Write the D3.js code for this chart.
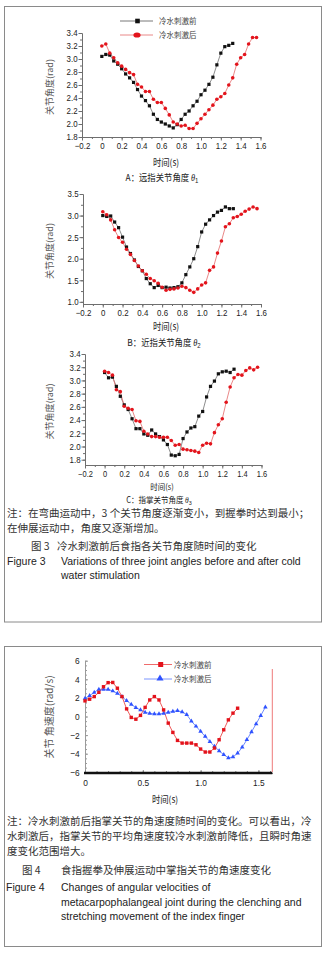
<!DOCTYPE html>
<html>
<head>
<meta charset="utf-8">
<script src="https://cdn.jsdelivr.net/npm/d3@7"></script>
<style>
  body { margin: 0; background: #fff; }
  svg { display: block; }
  text { font-family: "Liberation Sans", Arial, sans-serif; }
  .cjk { font-family: "Noto Sans CJK SC", sans-serif; }
</style>
</head>
<body>
<div id="chart"></div>
<script>
// sampling times (s), shared by every series
const t = [0.00,0.04,0.08,0.12,0.16,0.20,0.24,0.28,0.32,0.36,0.40,0.44,0.48,0.52,0.56,0.60,0.64,0.68,0.72,0.76,
           0.80,0.84,0.88,0.92,0.96,1.00,1.04,1.08,1.12,1.16,1.20,1.24,1.28,1.32,1.36,1.40,1.44,1.48,1.52,1.56];

// Figure 3 A: distal joint angle (rad)
const a1Before = [3.04,3.07,3.06,2.97,2.92,2.85,2.77,2.71,2.64,2.53,2.43,2.36,2.28,2.15,2.07,2.03,2.00,1.97,1.94,1.99,
                  2.07,2.15,2.20,2.28,2.35,2.45,2.52,2.61,2.72,2.91,3.09,3.19,3.21,3.24];
const a1After  = [3.20,3.23,3.09,3.02,2.94,2.89,2.84,2.79,2.76,2.61,2.57,2.50,2.50,2.38,2.33,2.33,2.24,2.14,2.03,2.00,
                  1.97,1.98,1.93,1.93,2.01,2.08,2.15,2.22,2.29,2.38,2.42,2.47,2.60,2.71,2.92,3.02,3.07,3.23,3.33,3.33];
// Figure 3 B: proximal joint angle
const a2Before = [3.00,2.98,2.99,2.85,2.72,2.50,2.27,2.12,1.97,1.82,1.72,1.54,1.42,1.33,1.38,1.33,1.34,1.32,1.33,1.35,
                  1.44,1.63,1.81,2.00,2.28,2.62,2.80,2.90,3.00,3.08,3.12,3.20,3.16,3.16];
const a2After  = [3.09,3.02,2.90,2.67,2.49,2.38,2.22,2.10,1.96,1.83,1.72,1.64,1.54,1.49,1.43,1.34,1.27,1.29,1.30,1.32,
                  1.36,1.33,1.27,1.22,1.30,1.39,1.44,1.73,1.81,2.13,2.41,2.74,2.81,2.95,2.98,3.03,3.10,3.15,3.20,3.16];
// Figure 3 C: metacarpophalangeal joint angle
const a3Before = [3.12,3.04,3.05,2.91,2.76,2.63,2.56,2.42,2.27,2.27,2.19,2.17,2.25,2.19,2.15,2.10,2.03,1.87,1.86,1.88,
                  2.12,2.22,2.28,2.30,2.46,2.53,2.75,2.91,2.99,3.10,3.13,3.14,3.12,3.17];
const a3After  = [3.14,3.12,3.08,2.86,2.83,2.61,2.58,2.56,2.39,2.38,2.23,2.19,2.15,2.15,2.14,2.14,2.14,2.09,2.02,2.03,
                  1.96,1.95,1.94,1.93,1.91,2.02,2.05,2.04,2.21,2.33,2.42,2.67,2.90,3.04,3.09,3.08,3.15,3.19,3.16,3.20];

// Figure 4: angular velocity (rad/s)
const vBefore = [1.68,1.86,2.14,2.60,3.20,3.64,3.66,3.04,2.14,0.82,-0.10,-0.29,0.12,0.98,1.78,2.14,1.78,0.71,-0.71,-1.71,
                 -2.57,-2.86,-2.86,-2.86,-3.04,-3.50,-3.82,-3.82,-3.39,-2.50,-1.43,-0.36,0.36,0.89];
const vAfter  = [1.95,2.24,2.60,2.92,2.92,2.92,2.74,2.49,2.13,1.70,1.31,0.95,0.70,0.45,0.34,0.27,0.27,0.34,0.45,0.55,
                 0.62,0.50,0.20,-0.50,-1.05,-1.60,-2.15,-2.70,-3.20,-3.70,-4.10,-4.45,-4.35,-3.95,-3.30,-2.50,-1.65,-0.80,0.10,1.00];

// tick labels
const angleXTicks = [-0.2,0,0.2,0.4,0.6,0.8,1.0,1.2,1.4,1.6];
const angleYTicks1 = [1.8,2.0,2.2,2.4,2.6,2.8,3.0,3.2,3.4];
const angleYTicks2 = [1.0,1.5,2.0,2.5,3.0,3.5];
const velXTicks = [0,0.5,1.0,1.5];
const velYTicks = [-6,-4,-2,0,2,4,6];
const seriesNames = ["冷水刺激前", "冷水刺激后"];

const W = 327, H = 955;
const svg = d3.select("#chart").append("svg").attr("width", W).attr("height", H);
svg.append("rect").attr("width", W).attr("height", H).attr("fill", "#fff");

// figure frames
svg.append("rect").attr("x", 4.5).attr("y", 6.5).attr("width", 317).attr("height", 615.5)
  .attr("fill", "none").attr("stroke", "#8a8a8a");
svg.append("rect").attr("x", 4.5).attr("y", 646.5).attr("width", 317).attr("height", 300)
  .attr("fill", "none").attr("stroke", "#8a8a8a");

const SQX = 0.88; // chart text in the source is a little squeezed horizontally

function label(x, y, str, opts = {}) {
  const el = svg.append("text")
    .attr("transform", `translate(${x},${y}) scale(${opts.sx || 1},1)${opts.rotate ? " rotate(-90)" : ""}`)
    .attr("text-anchor", opts.anchor || "start")
    .attr("fill", opts.fill || "#222")
    .style("font-size", (opts.size || 10) + "px")
    .text(str);
  if (opts.cjk) el.attr("class", "cjk");
  return el;
}

function styleAxis(g, color, size) {
  g.attr("font-size", null).attr("font-family", null);
  g.select(".domain").attr("stroke", color);
  g.selectAll(".tick line").attr("stroke", color);
  g.selectAll(".tick text").attr("fill", "#222").style("font-size", size + "px")
    .attr("transform", `scale(${SQX},1)`);
}

function subtitle(x, yb, str, sub, size) {
  const tx = svg.append("text")
    .attr("transform", `translate(${x},${yb}) scale(${SQX},1)`)
    .attr("text-anchor", "middle").attr("fill", "#222").style("font-size", size + "px");
  tx.append("tspan").attr("class", "cjk").text(str + " ");
  tx.append("tspan").style("font-family", "Liberation Serif").style("font-style", "italic").text("θ");
  tx.append("tspan").attr("dy", 2).style("font-size", (size * 0.72) + "px").text(sub);
}

function drawAngleChart(c) {
  const x = d3.scaleLinear().domain([-0.2, 1.6]).range(c.xRange);
  const y = d3.scaleLinear().domain(c.yDomain).range(c.yRange);
  const g = svg.append("g");
  const axisColor = "#6e6e6e";

  // minor ticks
  g.append("g").attr("transform", `translate(0,${c.yRange[0]})`)
    .call(d3.axisBottom(x).tickValues(x.ticks(18)).tickSize(2).tickFormat("").tickSizeOuter(0))
    .call(a => styleAxis(a, axisColor, 9));
  g.append("g").attr("transform", `translate(${c.xRange[0]},0)`)
    .call(d3.axisLeft(y).tickValues(c.yMinor).tickSize(2).tickFormat("").tickSizeOuter(0))
    .call(a => styleAxis(a, axisColor, 9));

  // major ticks + labels
  g.append("g").attr("transform", `translate(0,${c.yRange[0]})`)
    .call(d3.axisBottom(x).tickValues(angleXTicks).tickSize(3.5).tickPadding(2.5).tickSizeOuter(0)
      .tickFormat(d => d === 0 ? "0" : d3.format(".1f")(d)))
    .call(a => styleAxis(a, axisColor, c.tickSize));
  g.append("g").attr("transform", `translate(${c.xRange[0]},0)`)
    .call(d3.axisLeft(y).tickValues(c.yTicks).tickSize(3.5).tickPadding(1.5).tickSizeOuter(0)
      .tickFormat(d3.format(".1f")))
    .call(a => styleAxis(a, axisColor, 9));

  const line = d3.line().x(d => x(d[0])).y(d => y(d[1]));
  const before = c.before.map((v, i) => [t[i], v]);
  const after = c.after.map((v, i) => [t[i], v]);

  g.append("path").datum(before).attr("d", line)
    .attr("fill", "none").attr("stroke", "#707070").attr("stroke-width", 0.8);
  g.append("path").datum(after).attr("d", line)
    .attr("fill", "none").attr("stroke", "#e36a6a").attr("stroke-width", 0.8);

  g.selectAll(".sq").data(before).join("rect").attr("class", "sq")
    .attr("x", d => x(d[0]) - 1.6).attr("y", d => y(d[1]) - 1.6)
    .attr("width", 3.2).attr("height", 3.2).attr("fill", "#111");
  g.selectAll(".dot").data(after).join("circle").attr("class", "dot")
    .attr("cx", d => x(d[0])).attr("cy", d => y(d[1])).attr("r", 1.8).attr("fill", "#e3141c");

  // titles
  label(53, (c.yRange[0] + c.yRange[1]) / 2 + 2, "关节角度(rad)",
    { rotate: true, anchor: "middle", size: 9, cjk: true, fill: "#555" });
  label(c.titleX, c.titleY, "时间(s)", { anchor: "middle", size: c.titleSize, cjk: true, sx: SQX });
  subtitle(c.subX, c.subY, c.sub, c.subIndex, c.titleSize);
}

drawAngleChart({
  xRange: [82, 260.5], yDomain: [1.8, 3.4], yRange: [137, 33],
  yTicks: angleYTicks1, yMinor: d3.range(1.8, 3.41, 0.1), tickSize: 9,
  before: a1Before, after: a1After,
  titleX: 166, titleY: 165.5, titleSize: 9.5, subX: 162, subY: 180.5, sub: "A：远指关节角度", subIndex: "1"
});
drawAngleChart({
  xRange: [83, 261], yDomain: [0.95, 3.5], yRange: [304, 194],
  yTicks: angleYTicks2, yMinor: d3.range(1.0, 3.51, 0.25), tickSize: 9,
  before: a2Before, after: a2After,
  titleX: 166, titleY: 329.5, titleSize: 9.5, subX: 164, subY: 345.5, sub: "B：近指关节角度", subIndex: "2"
});
drawAngleChart({
  xRange: [85, 261.5], yDomain: [1.72, 3.4], yRange: [465, 354],
  yTicks: angleYTicks1, yMinor: d3.range(1.8, 3.41, 0.1), tickSize: 8.5,
  before: a3Before, after: a3After,
  titleX: 162, titleY: 489.5, titleSize: 8.5, subX: 159, subY: 502.5, sub: "C：指掌关节角度", subIndex: "3"
});

// legend of figure 3 (drawn once, on chart A)
svg.append("line").attr("x1", 120).attr("x2", 153).attr("y1", 21).attr("y2", 21)
  .attr("stroke", "#555").attr("stroke-width", 0.8);
svg.append("rect").attr("x", 135.2).attr("y", 18.7).attr("width", 4.6).attr("height", 4.6).attr("fill", "#111");
svg.append("line").attr("x1", 120).attr("x2", 153).attr("y1", 35).attr("y2", 35)
  .attr("stroke", "#e36a6a").attr("stroke-width", 0.8);
svg.append("ellipse").attr("cx", 137).attr("cy", 35).attr("rx", 3.6).attr("ry", 2.6).attr("fill", "#e3141c");
label(159, 24, seriesNames[0], { size: 8.5, cjk: true, fill: "#444", sx: SQX });
label(159, 38, seriesNames[1], { size: 8.5, cjk: true, fill: "#444", sx: SQX });

// notes and captions of figure 3
const noteSize = 10.5;
label(7, 517, "注：在弯曲运动中，3 个关节角度逐渐变小，到握拳时达到最小；", { size: noteSize, cjk: true, fill: "#333" });
label(7, 531.5, "在伸展运动中，角度又逐渐增加。", { size: noteSize, cjk: true, fill: "#333" });
label(31, 549.5, "图 3", { size: noteSize, cjk: true, fill: "#333" });
label(57, 549.5, "冷水刺激前后食指各关节角度随时间的变化", { size: noteSize, cjk: true, fill: "#333" });
label(7, 565, "Figure 3", { size: 10.5, fill: "#222" });
label(61, 565, "Variations of three joint angles before and after cold", { size: 10.5, fill: "#222" });
label(61, 578.5, "water stimulation", { size: 10.5, fill: "#222" });

// ---------- Figure 4: angular velocity ----------
(function () {
  const x = d3.scaleLinear().domain([0, 1.62]).range([85, 272.3]);
  const y = d3.scaleLinear().domain([-6, 6]).range([772.3, 660.7]);
  const g = svg.append("g");

  // y axis: gray, ticks inside
  g.append("g").attr("transform", "translate(85,0)")
    .call(d3.axisLeft(y).tickValues(d3.range(-6, 6.01, 0.5)).tickSize(-2).tickFormat("").tickSizeOuter(0))
    .call(a => styleAxis(a, "#9a9a9a", 9));
  g.append("g").attr("transform", "translate(85,0)")
    .call(d3.axisLeft(y).tickValues(velYTicks).tickSize(-3).tickPadding(6).tickSizeOuter(0).tickFormat(d3.format("d")))
    .call(a => styleAxis(a, "#9a9a9a", 9.5));

  // x axis: thick black base, ticks inside
  g.append("g").attr("transform", "translate(0,773)")
    .call(d3.axisBottom(x).tickValues(d3.range(0, 1.61, 0.1)).tickSize(-2).tickFormat("").tickSizeOuter(0))
    .call(a => styleAxis(a, "#888", 9));
  g.append("g").attr("transform", "translate(0,773)")
    .call(d3.axisBottom(x).tickValues(velXTicks).tickSize(-3).tickPadding(6).tickSizeOuter(0)
      .tickFormat(d => d === 0 ? "0" : d3.format(".1f")(d)))
    .call(a => styleAxis(a, "#888", 9.5));
  g.append("line").attr("x1", 84).attr("x2", 272.3).attr("y1", 773).attr("y2", 773)
    .attr("stroke", "#111").attr("stroke-width", 2.6);
  g.append("line").attr("x1", x(1.62)).attr("x2", x(1.62)).attr("y1", 669).attr("y2", 772)
    .attr("stroke", "#ee7a7a").attr("stroke-width", 1);

  const line = d3.line().x(d => x(d[0])).y(d => y(d[1]));
  const before = vBefore.map((v, i) => [t[i], v]);
  const after = vAfter.map((v, i) => [t[i], v]);

  g.append("path").datum(after).attr("d", line)
    .attr("fill", "none").attr("stroke", "#6f8bff").attr("stroke-width", 1);
  g.append("path").datum(before).attr("d", line)
    .attr("fill", "none").attr("stroke", "#ef5b5b").attr("stroke-width", 1);

  const tri = d3.symbol(d3.symbolTriangle, 9);
  g.selectAll(".tri").data(after).join("path").attr("class", "tri")
    .attr("transform", d => `translate(${x(d[0])},${y(d[1])})`)
    .attr("d", tri).attr("fill", "#2f52ff");
  g.selectAll(".sq").data(before).join("rect").attr("class", "sq")
    .attr("x", d => x(d[0]) - 1.7).attr("y", d => y(d[1]) - 1.7)
    .attr("width", 3.4).attr("height", 3.4).attr("fill", "#e3121b");

  // legend
  g.append("line").attr("x1", 144).attr("x2", 172).attr("y1", 664.5).attr("y2", 664.5)
    .attr("stroke", "#ef6b6b").attr("stroke-width", 1);
  g.append("rect").attr("x", 158.2).attr("y", 662).attr("width", 5).attr("height", 5).attr("fill", "#e3121b");
  g.append("line").attr("x1", 144).attr("x2", 172).attr("y1", 679).attr("y2", 679)
    .attr("stroke", "#7a94ff").attr("stroke-width", 1);
  g.append("path").attr("transform", "translate(160,678.5)")
    .attr("d", d3.symbol(d3.symbolTriangle, 22)).attr("fill", "#2f52ff");
  label(174, 667.5, seriesNames[0], { size: 8.5, cjk: true, fill: "#444", sx: SQX });
  label(174, 682, seriesNames[1], { size: 8.5, cjk: true, fill: "#444", sx: SQX });

  label(53, 717, "关节 角速度(rad/s)", { rotate: true, anchor: "middle", size: 10, cjk: true, fill: "#555" });
  label(165, 802.5, "时间(s)", { anchor: "middle", size: 9.5, cjk: true, sx: SQX });
})();

// notes and captions of figure 4
label(7, 825, "注：冷水刺激前后指掌关节的角速度随时间的变化。可以看出，冷", { size: noteSize, cjk: true, fill: "#333" });
label(7, 840, "水刺激后，指掌关节的平均角速度较冷水刺激前降低，且瞬时角速", { size: noteSize, cjk: true, fill: "#333" });
label(7, 855, "度变化范围增大。", { size: noteSize, cjk: true, fill: "#333" });
label(22, 874, "图 4", { size: noteSize, cjk: true, fill: "#333" });
label(61, 874, "食指握拳及伸展运动中掌指关节的角速度变化", { size: noteSize, cjk: true, fill: "#333" });
label(6, 891, "Figure 4", { size: 10.5, fill: "#222" });
label(61, 891, "Changes of angular velocities of", { size: 10.5, fill: "#222" });
label(61, 905.5, "metacarpophalangeal joint during the clenching and", { size: 10.5, fill: "#222" });
label(61, 920, "stretching movement of the index finger", { size: 10.5, fill: "#222" });
</script>
</body>
</html>
